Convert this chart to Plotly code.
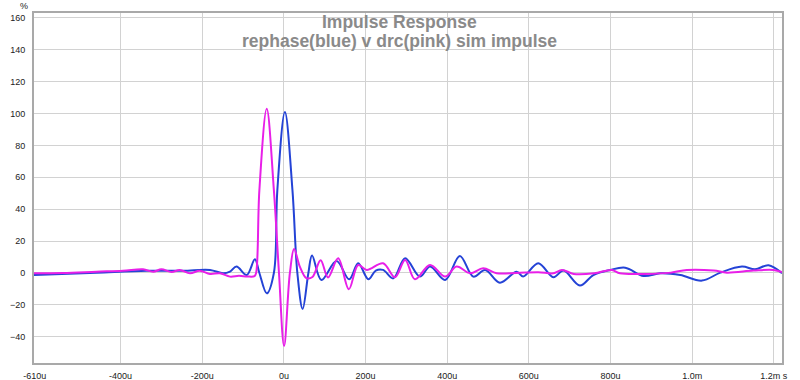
import plotly.graph_objects as go

# time in microseconds, amplitude in %
blue_t = [-612, -459, -336, -247, -181, -149, -132, -116, -91, -71, -60, -42, -24.5, -16, 2.5, 21, 33, 46, 60, 69, 92, 129, 160, 182, 207, 225, 243, 268, 297, 333, 358, 395, 431, 464, 493, 529, 570, 586, 623, 660, 685, 725, 758, 799, 836, 881, 922, 971, 1024, 1069, 1122, 1154, 1187, 1220]
blue_v = [-1.3, 0.2, 1.4, 1.4, 1.9, -0.2, 0.8, 4.0, -1.3, 8.6, 0, -12.8, 0, 52, 101, 52, 0, -22.6, 0, 10.9, -4.4, 7.5, -4.0, 6.1, -4.0, 1.5, 1.9, -3.4, 9.2, -2.3, 4.0, -4.4, 10.7, -2.3, 1.9, -6.1, 0.8, -2.3, 6.1, -2.7, 1.5, -7.9, -1.3, 1.9, 3.3, -1.9, -0.2, -1.3, -4.8, 0.2, 4.0, 2.3, 4.8, -0.2]

pink_t = [-612, -541, -459, -394, -345, -320, -300, -275, -255, -230, -206, -181, -157, -132, -110, -90, -72, -68, -60, -42, -24.5, -12, 0.5, 14.7, 25, 39, 55, 70, 90, 108, 133, 159, 182, 203, 243, 272, 297, 321, 358, 395, 423, 456, 488, 521, 570, 623, 660, 681, 710, 760, 803, 823, 884, 948, 987, 1053, 1085, 1150, 1199, 1220]
pink_v = [-0.2, 0, 0.8, 1.4, 2.3, 0.8, 2.3, 0.6, 1.9, -0.2, 1.4, -0.6, -0.2, -2.3, -1.8, -2.2, -2.0, 0, 52, 103, 52, 0, -45.8, 0, 15, 4, -3.2, -2.5, 8, -2.8, 9.2, -10.2, 5, 1.9, 6.1, -2.7, 8.2, -4.0, 5.0, -2.3, 4.0, -0.2, 2.9, -0.2, 0, 0.5, -0.2, 1.9, -0.6, -0.2, 1.9, -0.2, -0.6, 0.2, 1.9, 1.5, 0.2, 1.5, 1.9, 0.5]

x_tickvals = [-610, -400, -200, 0, 200, 400, 600, 800, 1000, 1200]
x_ticktext = ["-610u", "-400u", "-200u", "0u", "200u", "400u", "600u", "800u", "1.0m", "1.2m s"]
y_tickvals = [-40, -20, 0, 20, 40, 60, 80, 100, 120, 140, 160]

fig = go.Figure()
fig.add_trace(go.Scatter(x=blue_t, y=blue_v, mode="lines",
                         line=dict(color="#2443d6", width=2, shape="spline", smoothing=1.0)))
fig.add_trace(go.Scatter(x=pink_t, y=pink_v, mode="lines",
                         line=dict(color="#e81fe8", width=2, shape="spline", smoothing=1.0)))

tickfont = dict(family="Liberation Sans, Arial, sans-serif", size=9, color="#222222")
titlefont = dict(family="Liberation Sans, Arial, sans-serif", size=17.5, color="#8a8a8a")
fig.update_layout(
    width=800, height=380,
    margin=dict(l=34, r=18, t=13, b=17),
    paper_bgcolor="white", plot_bgcolor="white",
    showlegend=False,
    xaxis=dict(range=[-612, 1220], tickvals=x_tickvals, ticktext=x_ticktext,
               showgrid=True, gridcolor="#d2d2d2", gridwidth=1, zeroline=False,
               showline=True, mirror=True, linecolor="#a9a9a9", linewidth=2,
               ticks="", tickfont=tickfont, ticklabelstandoff=3, automargin=False),
    yaxis=dict(range=[-56.5, 163.1], tickvals=y_tickvals,
               showgrid=True, gridcolor="#d2d2d2", gridwidth=1, zeroline=False,
               showline=True, mirror=True, linecolor="#a9a9a9", linewidth=2,
               ticks="", tickfont=tickfont, ticklabelstandoff=5, automargin=False),
    annotations=[
        dict(text="<b>Impulse Response</b>", xref="paper", yref="paper", x=0.489, y=0.9757,
             xanchor="center", yanchor="middle", showarrow=False, font=titlefont),
        dict(text="<b>rephase(blue) v drc(pink) sim impulse</b>", xref="paper", yref="paper", x=0.489, y=0.9186,
             xanchor="center", yanchor="middle", showarrow=False, font=titlefont),
        dict(text="%", xref="paper", yref="paper", x=-0.013, y=1.0, xanchor="center", yanchor="bottom",
             showarrow=False, font=dict(family="Liberation Sans, Arial, sans-serif", size=9, color="#222222")),
    ],
)

fig.write_html("out.html", config={"displayModeBar": False},
               post_script="document.body.style.margin='0';")
